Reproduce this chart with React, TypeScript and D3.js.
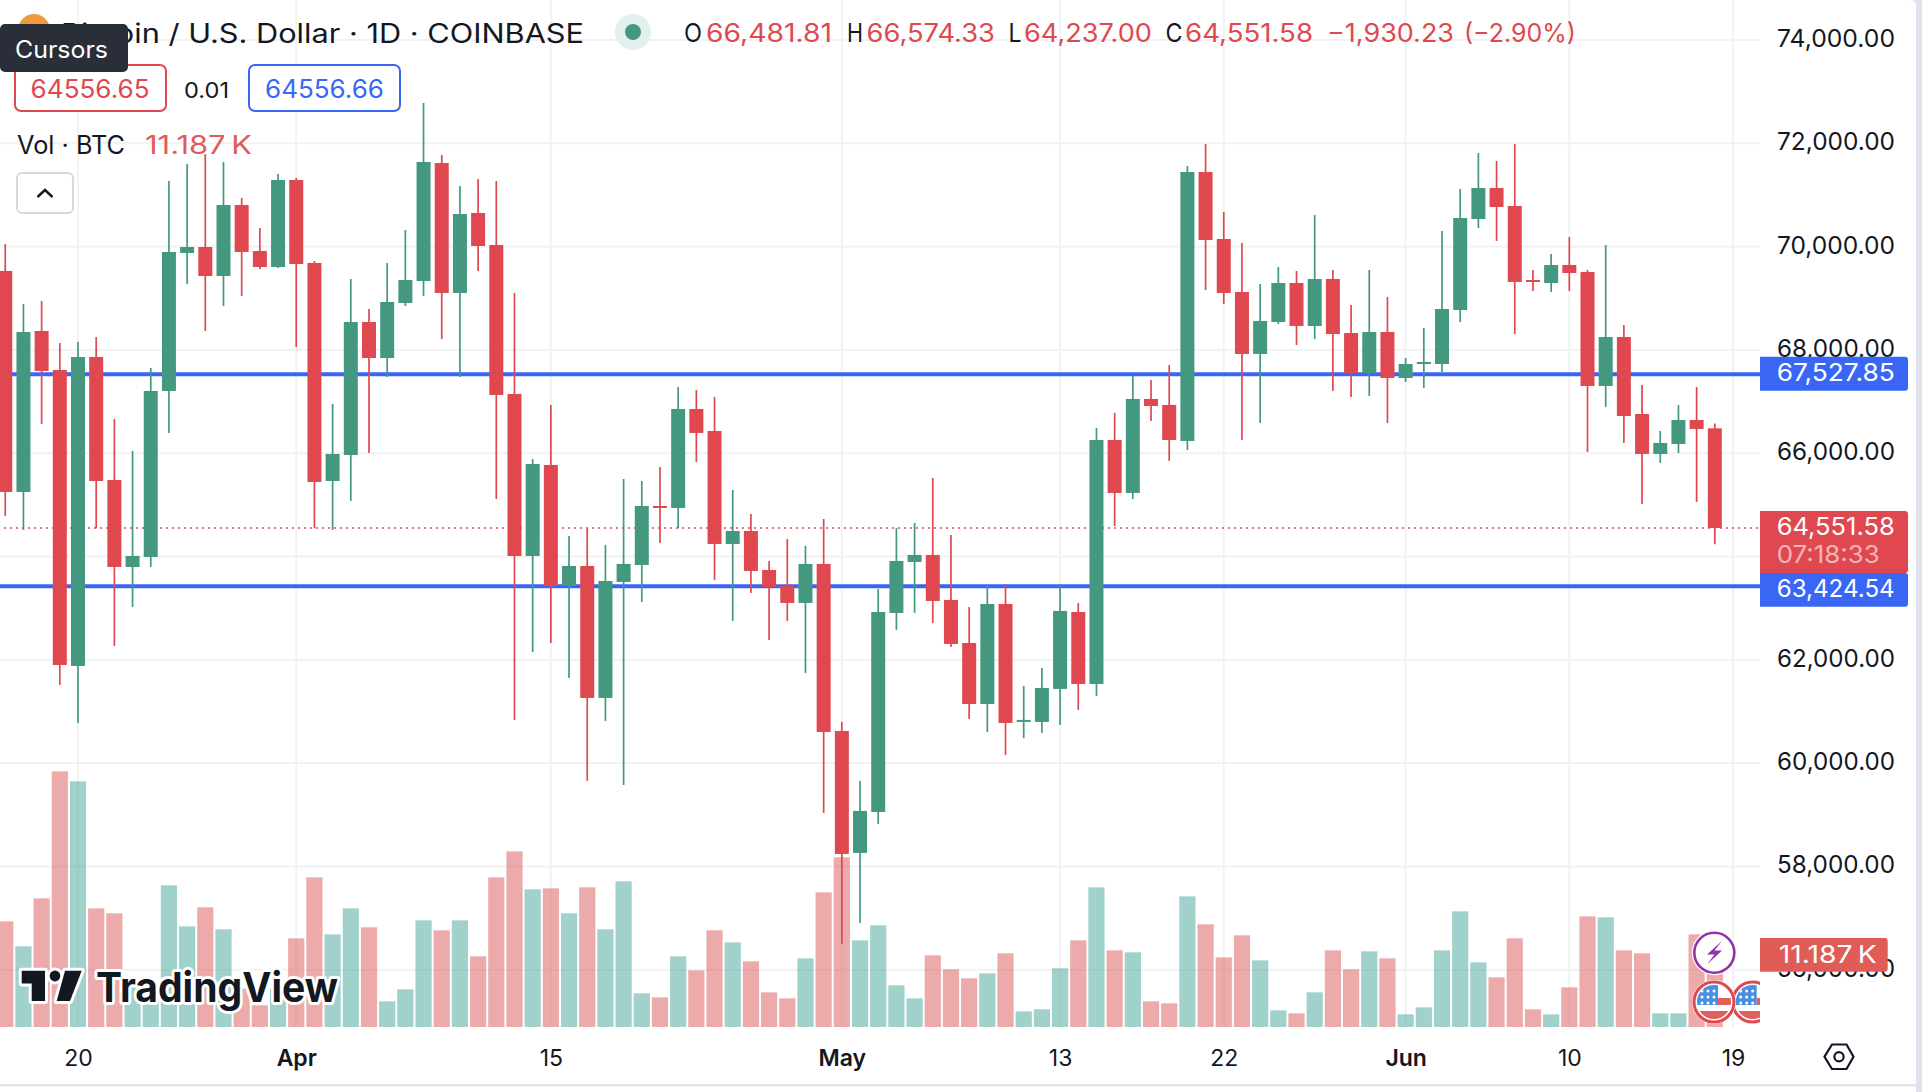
import { useEffect, useRef } from "react";
import * as d3 from "d3";

const W = 1922;
const H = 1092;

const firstDay = Date.UTC(2024, 2, 16);

const opens = [69528,65249,68366,67611,61881,67863,65482,63797,63991,67205,69876,69992,69431,70805,69915,69605,71289,69683,65462,65966,68540,67843,68908,69334,71618,69102,70651,70031,67147,64010,65772,63430,63817,61261,63507,63836,64978,64940,66856,66430,64243,64494,63739,63430,63101,63856,60623,58261,59054,62907,63894,64030,63159,62326,61145,63081,60797,60797,61436,62926,61532,66256,65230,67050,66934,66237,71444,70147,69121,67921,68540,69295,68463,69373,68327,67553,68347,67456,67727,67727,68773,70534,71135,70786,69353,69295,69644,69508,67301,68250,66759,65985,66179,66643,66481.81];
const highs = [70050,68889,68947,68134,68153,68250,66663,66043,67650,71270,71599,71793,71638,70941,70360,71406,71328,69721,66953,69373,68792,69683,70321,72780,71773,71173,71309,71270,69102,65888,66934,64398,64552,64223,65501,65462,65733,67282,67224,67088,65288,64823,63914,64339,64204,64727,60797,59655,63372,64552,64649,65520,64417,63023,63430,63468,61494,61842,63468,63101,66488,66779,67514,67418,67708,71560,71986,70670,70070,69276,69605,69528,70612,69547,68870,69547,69024,67843,68424,70302,71115,71812,71657,71986,69547,69857,70186,69547,70031,68482,67321,66430,66934,67282,66574.33];
const lows = [64785,64514,66566,61513,60777,64546,62268,63023,63797,66392,69276,68366,68850,69044,69566,69586,68056,64546,64514,65075,66004,67476,68850,69044,68211,67476,69528,65114,60836,62152,62326,61649,59655,60816,59577,63120,64262,64546,65830,63546,62752,63294,62384,62752,61745,59035,56499,56906,58822,62578,62907,62713,62249,60855,60603,60158,60481,60584,60739,61029,61300,64591,65114,66624,65850,66062,69160,68889,66256,66585,68502,68095,68211,67205,67088,67108,66585,67379,67263,67572,68540,70360,70109,68308,69141,69121,69141,66024,66895,66198,65017,65811,66004,65056,64237];
const closes = [65249,68347,67592,61900,67863,65462,63797,64010,67205,69896,69992,69431,70805,69896,69605,71289,69663,65443,65985,68540,67843,68928,69353,71638,69102,70631,70012,67127,64010,65791,63430,63817,61261,63526,63856,64978,64940,66856,66392,64243,64494,63720,63410,63101,63856,60603,58241,59074,62926,63914,64030,63139,62307,61145,63081,60777,60836,61455,62946,61532,66256,65230,67050,66914,66256,71444,70128,69102,67921,68560,69295,68463,69373,68308,67553,68347,67456,67727,67766,68792,70554,71135,70767,69315,69315,69644,69489,67301,68250,66721,65985,66198,66643,66469,64551.58];
const volumes = [16.48,12.58,20.07,39.88,38.32,18.51,17.73,6.5,6.5,22.1,15.7,18.67,15.24,6.0,3.38,6.0,13.83,23.35,14.46,18.51,15.55,4.0,5.88,16.64,15.08,16.64,11.02,23.35,27.4,21.48,21.63,17.73,21.79,15.24,22.72,5.25,4.63,11.02,8.84,15.08,13.21,10.24,5.41,4.47,10.71,21.01,26.47,13.52,15.86,6.5,4.47,11.18,9.0,7.59,8.37,11.49,2.44,2.76,9.15,13.52,21.79,11.96,11.65,4.0,3.69,20.38,16.02,10.87,14.3,10.4,2.6,2.13,5.41,11.96,9.0,11.8,10.71,1.98,3.07,11.96,18.04,10.09,7.75,13.83,2.76,1.98,6.19,17.26,17.11,11.96,11.49,2.13,2.13,14.46,11.187];

const priceTicks = [74000,72000,70000,68000,66000,64000,62000,60000,58000,56000];
const timeTicks = [
  { date: Date.UTC(2024, 2, 20), label: "20" },
  { date: Date.UTC(2024, 3, 1), label: "Apr" },
  { date: Date.UTC(2024, 3, 15), label: "15" },
  { date: Date.UTC(2024, 4, 1), label: "May" },
  { date: Date.UTC(2024, 4, 13), label: "13" },
  { date: Date.UTC(2024, 4, 22), label: "22" },
  { date: Date.UTC(2024, 5, 1), label: "Jun" },
  { date: Date.UTC(2024, 5, 10), label: "10" },
  { date: Date.UTC(2024, 5, 19), label: "19" },
];
const boldTicks = ["Apr", "May", "Jun"];

const bidLevels = [67527.85, 63424.54];
const lastPrice = 64551.58;
const lastVolume = 11.187;

const RED = "#e0484f";
const GREEN = "#459880";
const BLUE = "#3a66f6";
const INK = "#131722";
const FONT = "Inter, Roboto, sans-serif";

const plotRight = 1760;
const plotBottom = 1027;

export default function App() {
  const svgRef = useRef<SVGSVGElement>(null);

  useEffect(() => {
    if (!svgRef.current) return;
    document.body.style.margin = "0";
    document.body.style.background = "#fff";

    const svg = d3.select(svgRef.current);
    svg.selectAll("*").remove();
    svg.attr("font-family", FONT);

    const x = d3
      .scaleUtc()
      .domain([Date.UTC(2024, 2, 20), Date.UTC(2024, 5, 19)])
      .range([78, 1733]);
    const y = d3.scaleLinear().domain([74000, 56000]).range([40, 969.7]);
    const yVol = d3.scaleLinear().domain([0, 40]).range([plotBottom, plotBottom - 256.4]);

    const days = opens.map((_, i) => d3.utcDay.offset(new Date(firstDay), i));
    const fmt = d3.format(",.2f");

    const defs = svg.append("defs");
    defs
      .append("clipPath")
      .attr("id", "plot-clip")
      .append("rect")
      .attr("width", plotRight)
      .attr("height", 1084);

    // grid
    svg
      .append("g")
      .attr("stroke", "#f1f2f4")
      .attr("stroke-width", 2)
      .selectAll("line.h")
      .data(priceTicks)
      .join("line")
      .attr("x1", 0)
      .attr("x2", plotRight)
      .attr("y1", (d) => y(d))
      .attr("y2", (d) => y(d));
    svg
      .append("g")
      .attr("stroke", "#f1f2f4")
      .attr("stroke-width", 2)
      .selectAll("line")
      .data(timeTicks)
      .join("line")
      .attr("x1", (d) => x(d.date))
      .attr("x2", (d) => x(d.date))
      .attr("y1", 0)
      .attr("y2", plotBottom);

    const plot = svg.append("g").attr("clip-path", "url(#plot-clip)");

    // volume
    plot
      .append("g")
      .selectAll("rect")
      .data(volumes)
      .join("rect")
      .attr("x", (_, i) => x(days[i]) - 8.1)
      .attr("width", 16.2)
      .attr("y", (d) => yVol(d))
      .attr("height", (d) => plotBottom - yVol(d))
      .attr("fill", (_, i) => (closes[i] >= opens[i] ? "#44a398" : "#d95856"))
      .attr("fill-opacity", 0.5);

    // logo
    const logo = plot.append("g").attr("fill", INK).attr("stroke", "#fff").attr("stroke-width", 6).style("paint-order", "stroke").attr("stroke-linejoin", "round");
    logo.append("path").attr("d", "M21.7 970.8H45V1001H31.7V983.6H21.7Z");
    logo.append("circle").attr("cx", 55).attr("cy", 976).attr("r", 5.4);
    logo.append("path").attr("d", "M65 970.8H81.7L70 1001H56.7Z");
    logo
      .append("text")
      .attr("x", 96)
      .attr("y", 1002)
      .attr("font-size", 41)
      .attr("font-weight", 700)
      .attr("textLength", 242)
      .attr("lengthAdjust", "spacingAndGlyphs")
      .text("TradingView");

    // level lines
    plot
      .append("g")
      .selectAll("line")
      .data(bidLevels)
      .join("line")
      .attr("x1", 0)
      .attr("x2", plotRight)
      .attr("y1", (d) => y(d))
      .attr("y2", (d) => y(d))
      .attr("stroke", BLUE)
      .attr("stroke-width", 4);
    plot
      .append("line")
      .attr("x1", 4)
      .attr("x2", plotRight)
      .attr("y1", y(lastPrice))
      .attr("y2", y(lastPrice))
      .attr("stroke", RED)
      .attr("stroke-width", 1.6)
      .attr("stroke-dasharray", "2 4");

    // candles
    const candles = plot
      .append("g")
      .selectAll("g")
      .data(opens)
      .join("g")
      .attr("fill", (_, i) => (closes[i] >= opens[i] ? GREEN : RED));
    candles
      .append("rect")
      .attr("x", (_, i) => x(days[i]) - 0.85)
      .attr("width", 1.7)
      .attr("y", (_, i) => y(highs[i]))
      .attr("height", (_, i) => y(lows[i]) - y(highs[i]));
    candles
      .append("rect")
      .attr("x", (_, i) => x(days[i]) - 7)
      .attr("width", 14)
      .attr("y", (_, i) => y(Math.max(opens[i], closes[i])))
      .attr("height", (_, i) => Math.max(2, y(Math.min(opens[i], closes[i])) - y(Math.max(opens[i], closes[i]))));

    // event icons
    const flagAt = (cx: number, cy: number) => {
      const id = `flag-${Math.round(cx)}`;
      defs.append("clipPath").attr("id", id).append("circle").attr("cx", cx).attr("cy", cy).attr("r", 17);
      const g = plot.append("g");
      g.append("circle").attr("cx", cx).attr("cy", cy).attr("r", 21).attr("fill", "#fff").attr("stroke", "#fff").attr("stroke-width", 2);
      const inner = g.append("g").attr("clip-path", `url(#${id})`);
      inner.append("rect").attr("x", cx - 17).attr("y", cy - 17).attr("width", 21).attr("height", 20).attr("fill", "#4a90e2");
      inner.append("rect").attr("x", cx + 4).attr("y", cy - 4).attr("width", 13).attr("height", 7).attr("fill", "#e0605c");
      inner.append("rect").attr("x", cx - 17).attr("y", cy + 9).attr("width", 34).attr("height", 9).attr("fill", "#e0605c");
      [-11, -5, 1].forEach((dy) =>
        [-12, -6, 0].forEach((dx) => {
          inner.append("circle").attr("cx", cx + dx).attr("cy", cy + dy).attr("r", 1.5).attr("fill", "#fff");
        }),
      );
      g.append("circle").attr("cx", cx).attr("cy", cy).attr("r", 20).attr("fill", "none").attr("stroke", "#e0484f").attr("stroke-width", 3);
    };
    flagAt(1752.7, 1002);
    flagAt(1714, 1002);
    plot.append("circle").attr("cx", 1714.3).attr("cy", 952.7).attr("r", 21).attr("fill", "#fff").attr("stroke", "#fff").attr("stroke-width", 3);
    plot.append("circle").attr("cx", 1714.3).attr("cy", 952.7).attr("r", 20).attr("fill", "#fff").attr("stroke", "#9032ad").attr("stroke-width", 2.6);
    plot.append("path").attr("d", "M1722 941L1707 954.5H1714.5L1707 964.5L1722 950.5H1714.5Z").attr("fill", "#9032ad");

    // price axis
    const priceAxis = svg
      .append("g")
      .attr("transform", `translate(${plotRight},0)`)
      .call(d3.axisRight(y).tickValues(priceTicks).tickSize(0).tickPadding(17).tickFormat((d) => fmt(Number(d))));
    priceAxis.select(".domain").remove();
    priceAxis
      .selectAll(".tick text")
      .attr("fill", INK)
      .attr("font-size", 24)
      .attr("font-family", FONT)
      .attr("dy", "0.27em")
      .attr("textLength", 118)
      .attr("lengthAdjust", "spacingAndGlyphs");

    const tag = (top: number, bottom: number, width: number, fill: string) =>
      svg
        .append("path")
        .attr("d", `M${plotRight} ${top}H${plotRight + width - 3}Q${plotRight + width} ${top} ${plotRight + width} ${top + 3}V${bottom - 3}Q${plotRight + width} ${bottom} ${plotRight + width - 3} ${bottom}H${plotRight}Z`)
        .attr("fill", fill);
    const tagText = (py: number, s: string, len: number, opacity = 1, px = 1776.7) =>
      svg
        .append("text")
        .attr("x", px)
        .attr("y", py)
        .attr("fill", "#fff")
        .attr("fill-opacity", opacity)
        .attr("font-size", 24)
        .attr("textLength", len)
        .attr("lengthAdjust", "spacingAndGlyphs")
        .text(s);

    tag(356.7, 390.7, 148, BLUE);
    tagText(380.7, fmt(bidLevels[0]), 118);
    tag(511, 573, 148, RED);
    tagText(535, fmt(lastPrice), 118);
    tagText(563, "07:18:33", 103, 0.6);
    tag(573, 606.7, 148, BLUE);
    tagText(597, fmt(bidLevels[1]), 118);
    tag(938, 971.7, 127.7, "#e05c56");
    tagText(963, `${lastVolume.toFixed(3)}\u2009K`, 98, 1, 1778.8);

    // time axis
    const timeAxis = svg
      .append("g")
      .attr("transform", `translate(0,${plotBottom})`)
      .call(
        d3
          .axisBottom(x)
          .tickValues(timeTicks.map((d) => new Date(d.date)))
          .tickSize(0)
          .tickFormat((_, i) => timeTicks[i].label),
      );
    timeAxis.select(".domain").remove();
    timeAxis
      .selectAll<SVGTextElement, unknown>(".tick text")
      .attr("fill", INK)
      .attr("font-size", 23)
      .attr("font-family", FONT)
      .attr("y", 38.5)
      .attr("dy", 0)
      .attr("font-weight", (_, i) => (boldTicks.includes(timeTicks[i].label) ? 600 : 400));

    // hex settings icon
    svg.append("path").attr("d", "M1824.5 1056.7L1832 1044.5H1846.5L1853.5 1056.7L1846.5 1069H1832Z").attr("fill", "none").attr("stroke", INK).attr("stroke-width", 2.2);
    svg.append("circle").attr("cx", 1839).attr("cy", 1056.7).attr("r", 4.6).attr("fill", "none").attr("stroke", INK).attr("stroke-width", 2.2);

    // page frame
    svg.append("path").attr("d", "M1910 0Q1916 0 1916 6V1092H1922V0Z").attr("fill", "#e0e3eb");
    svg.append("rect").attr("x", 0).attr("y", 1084).attr("width", 1916).attr("height", 2.4).attr("fill", "#e0e3eb");

    // legend
    const legend = svg.append("g");
    const label = (px: number, py: number, s: string, fill: string, size: number, len: number) =>
      legend
        .append("text")
        .attr("x", px)
        .attr("y", py)
        .attr("fill", fill)
        .attr("font-size", size)
        .attr("textLength", len)
        .attr("lengthAdjust", "spacingAndGlyphs")
        .text(s);

    legend.append("circle").attr("cx", 34).attr("cy", 30).attr("r", 16).attr("fill", "#ef9a3c");
    label(61, 43, "Bitcoin / U.S. Dollar · 1D · COINBASE", INK, 26.5, 523);
    legend.append("circle").attr("cx", 633).attr("cy", 32).attr("r", 18).attr("fill", "#e3f1ee");
    legend.append("circle").attr("cx", 633).attr("cy", 32).attr("r", 8).attr("fill", GREEN);

    const ohlc = [
      { k: "O", kx: 684, kw: 18, vx: 706, vw: 126, v: fmt(opens[94]) },
      { k: "H", kx: 847, kw: 16, vx: 866.5, vw: 128.5, v: fmt(highs[94]) },
      { k: "L", kx: 1008.5, kw: 13, vx: 1024, vw: 128, v: fmt(lows[94]) },
      { k: "C", kx: 1165.6, kw: 17, vx: 1185, vw: 128, v: fmt(closes[94]) },
    ];
    ohlc.forEach((d) => {
      label(d.kx, 42, d.k, INK, 25, d.kw);
      label(d.vx, 42, d.v, RED, 25, d.vw);
    });
    label(1327, 42, "−1,930.23", RED, 25, 127);
    label(1464, 42, "(−2.90%)", RED, 25, 112);

    legend.append("rect").attr("x", 15).attr("y", 65).attr("width", 151).attr("height", 46).attr("rx", 6).attr("fill", "#fff").attr("stroke", RED).attr("stroke-width", 2);
    label(30.6, 97.5, "64556.65", RED, 25, 119);
    label(184, 97.5, "0.01", INK, 21.5, 45);
    legend.append("rect").attr("x", 249).attr("y", 65).attr("width", 151).attr("height", 46).attr("rx", 6).attr("fill", "#fff").attr("stroke", BLUE).attr("stroke-width", 2);
    label(265, 97.5, "64556.66", BLUE, 25, 119);

    label(17, 154, "Vol · BTC", INK, 25, 108);
    label(145, 154, `${lastVolume.toFixed(3)}\u2009K`, "#e05c56", 25, 107);

    legend.append("rect").attr("x", 17).attr("y", 173).attr("width", 56).attr("height", 40).attr("rx", 5).attr("fill", "#fff").attr("stroke", "#d5d8e0").attr("stroke-width", 2);
    legend.append("path").attr("d", "M37.5 197L45 190L52.5 197").attr("fill", "none").attr("stroke", INK).attr("stroke-width", 2.4);

    legend.append("rect").attr("x", 0).attr("y", 24).attr("width", 128).attr("height", 48).attr("rx", 5).attr("fill", "#2a2e39");
    label(15, 58, "Cursors", "#fff", 24, 93);
  }, []);

  return <svg ref={svgRef} width={W} height={H} style={{ display: "block" }} role="img" aria-label="BTC/USD daily candlestick chart" />;
}
